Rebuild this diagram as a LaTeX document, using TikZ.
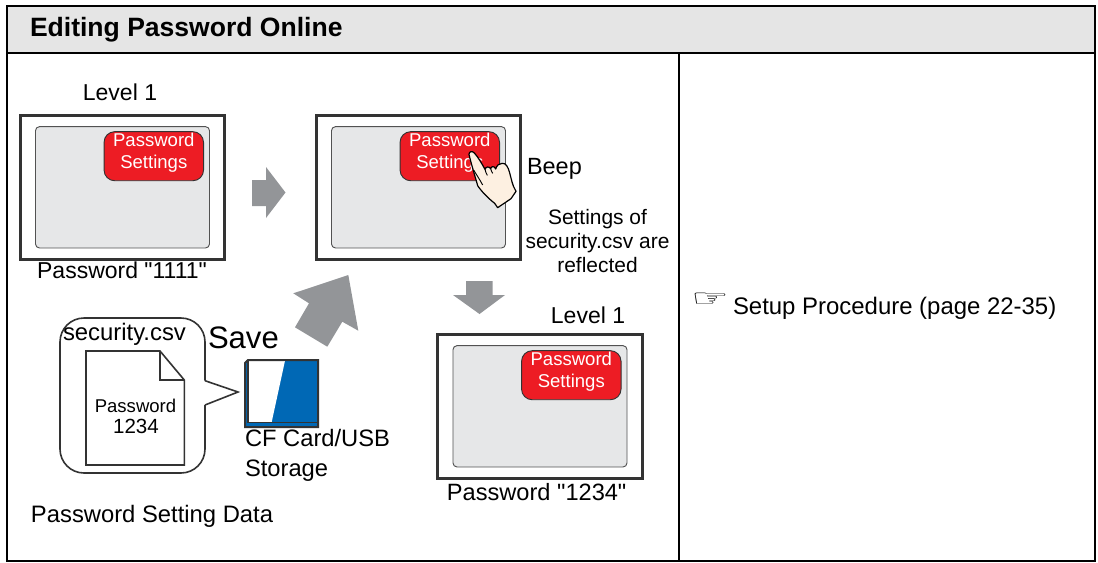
\documentclass[tikz,border=0pt]{standalone}
\usepackage{fontspec}
\setmainfont{Liberation Sans}
\newfontfamily\plainfont{Liberation Sans}
\newfontfamily\symfont{DejaVu Sans}
\definecolor{hdr}{HTML}{E5E5E5}
\definecolor{scr}{HTML}{E6E7E8}
\definecolor{btn}{HTML}{ED1C24}
\definecolor{arr}{HTML}{939598}
\definecolor{ink}{HTML}{333333}
\definecolor{cf}{HTML}{0068B5}
\definecolor{skin}{HTML}{FDF0E1}
\tikzset{
  x=0.75pt,y=-0.75pt,
  every node/.style={inner sep=0pt,outer sep=0pt,text=black},
  lbl/.style={font=\fontsize{17.25}{20}\selectfont,anchor=base},
  lblw/.style={font=\fontsize{17.8}{22.5}\selectfont,anchor=base west,align=left},
  small/.style={font=\fontsize{15.7}{18}\selectfont,align=center},
  frameline/.style={line width=1.6pt,black},
  grayarrow/.style={fill=arr,draw=none},
  screenouter/.style={draw=ink,line width=2.3pt,fill=white,minimum width=153.5pt,minimum height=108.2pt},
  screeninner/.style={draw=ink!85,line width=0.7pt,fill=scr,rounded corners=3pt,minimum width=130.5pt,minimum height=91pt},
  button/.style={draw=ink,line width=0.7pt,fill=btn,rounded corners=8pt,minimum width=74.6pt,minimum height=36.8pt},
  buttontext/.style={text=white,align=center,font=\fontsize{13.9}{16.5}\selectfont},
  screen/.pic={
    \node[screenouter] (-outer) at (122.5,187.5) {};
    \node[screeninner] (-inner) at (122.5,187.3) {};
    \node[button] (-btn) at (153.8,156.2) {};
    \node[buttontext] (-txt) at (153.8,152.6) {Password\\Settings};
  }
}
\begin{document}
\begin{tikzpicture}
\useasboundingbox (0,0) rectangle (1098,562);
% table
\fill[hdr] (7,6) rectangle (1095,53);
\draw[frameline] (7,6) rectangle (1095,561);
\draw[frameline] (7,53) -- (1095,53);
\draw[frameline] (679,53) -- (679,561);
\node[anchor=base west,font=\fontsize{19.9}{24}\selectfont\bfseries] (title) at (30,36.7) {Editing Password Online};
% screens
\pic (s1) at (0,0) {screen};
\pic (s2) at (296,0) {screen};
\pic (s3) at (417.5,219) {screen};
% labels
\node[lbl] (lv1) at (120,100.7) {Level 1};
\node[lbl,font=\fontsize{17.25}{20}\selectfont\plainfont] (pw1) at (122,278) {Password "1111"};
\node[lbl,anchor=base west,font=\fontsize{17.6}{20}\selectfont] (beep) at (527,174) {Beep};
\node[small] (refl) at (597.5,241) {Settings of\\security.csv are\\reflected};
\node[lbl] (lv2) at (588,323) {Level 1};
\node[lbl,font=\fontsize{17.7}{20}\selectfont\plainfont] (pw2) at (536.7,500) {Password "1234"};
% arrows
\fill[grayarrow] (252,180) -- (266,180) -- (266,167) -- (285.5,192.5) -- (266,218) -- (266,206) -- (252,206) -- cycle;
\fill[grayarrow] (466,281) -- (492.7,281) -- (492.7,295) -- (505,295) -- (479.5,314) -- (453,295) -- (466,295) -- cycle;
\fill[grayarrow] (348.3,275) -- (358.3,330.7) -- (342.3,321.7) -- (327.3,346.7) -- (295,327.3) -- (309,303.3) -- (293.3,293.3) -- cycle;
% hand
\begin{scope}[shift={(440,120)},x=0.25pt,y=-0.25pt]
\draw[fill=skin,draw=black,line width=0.9pt,line join=round]
 (87,103) .. controls (87,94) and (97,92) .. (103,99)
 .. controls (115,112) and (125,130) .. (135,148)
 .. controls (137,140) and (147,138) .. (152,146)
 .. controls (154,138) and (163,137) .. (167,147)
 .. controls (170,136) and (178,130) .. (186,130)
 .. controls (198,128) and (204,142) .. (208,155)
 .. controls (214,175) and (216,195) .. (228,214)
 -- (213,236) -- (173,263) -- (164,250)
 .. controls (145,235) and (125,215) .. (113,197)
 .. controls (107,175) and (93,130) .. (87,103) -- cycle;
\draw[black,line width=0.7pt] (101,150) .. controls (110,165) and (120,180) .. (128,195);
\draw[black,line width=0.7pt] (135,148) .. controls (137,155) and (138,160) .. (142,166);
\draw[black,line width=0.7pt] (152,146) .. controls (154,152) and (155,156) .. (158,160);
\end{scope}
% bubble
\draw[draw=ink,line width=1.2pt,fill=white,rounded corners=18pt]
  (205,380.7) -- (205,318) -- (60,318) -- (60,473) -- (205,473) -- (205,405);
\draw[draw=ink,line width=1.2pt,line join=miter] (205,380.7) -- (238,392) -- (205,405);
\node[anchor=base west,font=\fontsize{17.9}{20}\selectfont] (csv) at (63,340) {security.csv};
\draw[draw=ink,line width=1.2pt,fill=white,line join=miter] (86,351) -- (160,351) -- (184.3,380) -- (184.3,465) -- (86,465) -- cycle;
\draw[draw=ink,line width=1.2pt,line join=miter] (160,351) -- (160,380) -- (184.3,380);
\node[font=\fontsize{13.9}{15.5}\selectfont,anchor=base] (docp) at (135.5,412) {Password};
\node[font=\fontsize{15.4}{17}\selectfont,anchor=base] (docn) at (136,433) {1234};
\node[anchor=base west,font=\fontsize{23.3}{26}\selectfont] (save) at (208,348) {Save};
% card
\fill[cf] (245,362) -- (247,360) -- (318,360) -- (318,427) -- (245,427) -- cycle;
\fill[white] (247.3,360.7) -- (285,360.7) -- (271.7,422) -- (247.3,422) -- cycle;
\draw[draw=ink,line width=1.5pt,line join=miter] (245,363) -- (248,360) -- (318,360) -- (318,427) -- (245,427) -- cycle;
\draw[draw=ink,line width=0.8pt] (248,360) -- (248,422.7) -- (318,422.7);
\node[lblw] (cfl) at (245,476.7) {CF Card/USB\\Storage};
\node[anchor=base west,font=\fontsize{17.85}{20}\selectfont] (psd) at (31,522) {Password Setting Data};
% right cell
\node[anchor=base west,font=\fontsize{26}{30}\selectfont\symfont,xscale=1.22,yscale=0.68,transform shape] (pt) at (691,306) {☞};
\node[anchor=base west,font=\fontsize{17.95}{20}\selectfont] (setup) at (733,314) {Setup Procedure (page 22-35)};
\end{tikzpicture}
\end{document}
